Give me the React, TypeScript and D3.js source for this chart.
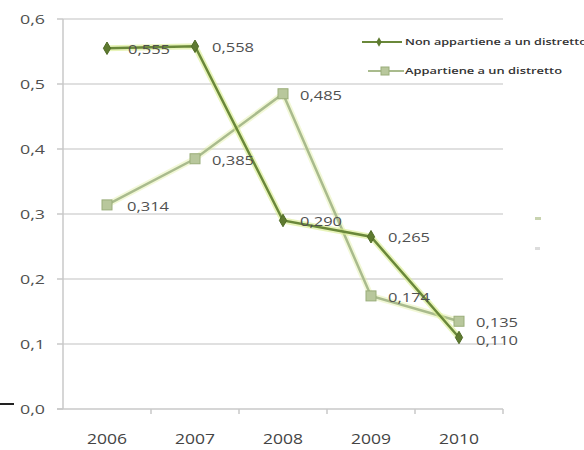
import React from "react";
import * as d3 from "d3";

const years = ["2006", "2007", "2008", "2009", "2010"];
const nonAppartiene = [0.555, 0.558, 0.29, 0.265, 0.11];
const appartiene = [0.314, 0.385, 0.485, 0.174, 0.135];
const yTicks = [0, 0.1, 0.2, 0.3, 0.4, 0.5, 0.6];
const seriesNames = ["Non appartiene a un distretto", "Appartiene a un distretto"];

const W = 584, H = 450;
const fmt = (v: number) => v.toFixed(3).replace(".", ",");
const fmtTick = (v: number) => v.toFixed(1).replace(".", ",");

export default function App() {
  const x = d3.scaleBand<string>().domain(years).range([63, 503]);
  const y = d3.scaleLinear().domain([0, 0.6]).range([409, 19]);
  const cx = (yr: string) => (x(yr) as number) + x.bandwidth() / 2;
  const line = d3.line<number>().x((_, i) => cx(years[i])).y((d) => y(d));
  const font = "'Open Sans', Lato, sans-serif";
  const darkC = "#6a883a";
  const lightC = "#a9bb8d";
  const glow = "#d9ec8c";
  const txt = "#505050";

  return (
    <svg width={W} height={H} style={{ position: "absolute", left: 0, top: 0, background: "#fff" }} fontFamily={font}>
      <rect x={0} y={0} width={W} height={H} fill="#fff" />
      {yTicks.slice(1).map((t) => (
        <line key={t} x1={63} x2={503} y1={y(t)} y2={y(t)} stroke="#d6d6d6" strokeWidth={1.5} />
      ))}
      <line x1={63} x2={63} y1={y(0.6)} y2={y(0)} stroke="#c8c8c8" strokeWidth={1.5} />
      <line x1={57} x2={503} y1={y(0)} y2={y(0)} stroke="#c8c8c8" strokeWidth={1.5} />
      {yTicks.map((t) => (
        <g key={"yt" + t}>
          <line x1={57} x2={63} y1={y(t)} y2={y(t)} stroke="#c8c8c8" strokeWidth={1.5} />
          <text x={45} y={y(t)} dy="0.35em" textAnchor="end" fontSize={13} fill={txt} textLength={25} lengthAdjust="spacingAndGlyphs">{fmtTick(t)}</text>
        </g>
      ))}
      {years.map((yr) => (
        <g key={"xt" + yr}>
          <line x1={(x(yr) as number) + x.bandwidth()} x2={(x(yr) as number) + x.bandwidth()} y1={y(0)} y2={y(0) + 5} stroke="#c8c8c8" strokeWidth={1.5} />
          <text x={cx(yr) - 20} y={439} dy="0.35em" fontSize={14} fill="#444" textLength={40} lengthAdjust="spacingAndGlyphs">{yr}</text>
        </g>
      ))}
      <line x1={0} x2={14} y1={404} y2={404} stroke="#222" strokeWidth={2} />

      <path d={line(appartiene) || ""} fill="none" stroke={glow} strokeOpacity={0.35} strokeWidth={6} />
      <path d={line(appartiene) || ""} fill="none" stroke={lightC} strokeWidth={2.5} />
      {appartiene.map((v, i) => (
        <rect key={"la" + i} x={cx(years[i]) - 5} y={y(v) - 5} width={10} height={10} fill="#b8c79c" stroke="#9aad7a" strokeWidth={1} />
      ))}
      <path d={line(nonAppartiene) || ""} fill="none" stroke={glow} strokeOpacity={0.6} strokeWidth={6} />
      <path d={line(nonAppartiene) || ""} fill="none" stroke={darkC} strokeWidth={2.5} />
      {nonAppartiene.map((v, i) => (
        <path key={"nd" + i} d={d3.symbol(d3.symbolDiamond, 45)() || ""} transform={`translate(${cx(years[i])},${y(v)})`} fill="#5e7a30" stroke="#4f6a25" />
      ))}

      {appartiene.map((v, i) => (
        <text key={"lt" + i} x={cx(years[i]) + (i === 0 ? 20 : 17)} y={y(v) + 1.5} dy="0.35em" fontSize={13} fill={txt} textLength={42} lengthAdjust="spacingAndGlyphs">{fmt(v)}</text>
      ))}
      {nonAppartiene.map((v, i) => (
        <text key={"nt" + i} x={cx(years[i]) + (i === 0 ? 21 : 17)} y={y(v) + (i === 4 ? 2.5 : 1)} dy="0.35em" fontSize={13} fill={txt} textLength={42} lengthAdjust="spacingAndGlyphs">{fmt(v)}</text>
      ))}

      <line x1={362} x2={402} y1={42} y2={42} stroke={darkC} strokeWidth={2} />
      <path d={d3.symbol(d3.symbolDiamond, 25)() || ""} transform="translate(379,42)" fill="#5e7a30" />
      <text x={405} y={42} dy="0.35em" fontSize={9} fontWeight={600} fill="#333" textLength={182} lengthAdjust="spacingAndGlyphs">{seriesNames[0]}</text>
      <line x1={368} x2={404} y1={71} y2={71} stroke={lightC} strokeWidth={2} />
      <rect x={381} y={67} width={8} height={8} fill="#b8c79c" stroke="#9aad7a" />
      <text x={405} y={71} dy="0.35em" fontSize={9} fontWeight={600} fill="#333" textLength={157} lengthAdjust="spacingAndGlyphs">{seriesNames[1]}</text>

      <rect x={535} y={217} width={6} height={3} fill="#c8d3b0" />
      <rect x={535} y={247} width={5} height={3} fill="#dcdcdc" />
    </svg>
  );
}
